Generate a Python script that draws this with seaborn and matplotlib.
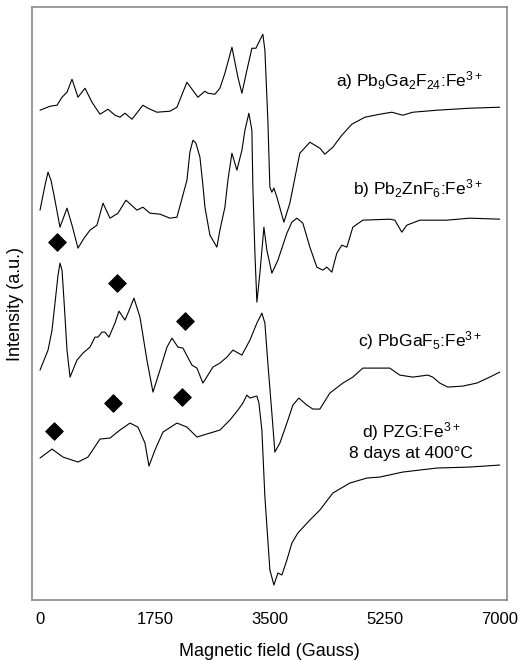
import matplotlib
matplotlib.use('Agg')
import matplotlib.pyplot as plt
import seaborn as sns
import pandas as pd

# EPR spectra (field in Gauss, intensity in a.u.)
field_a = [0, 152, 259, 335, 411, 487, 578, 685, 791, 913, 1035, 1141, 1217, 1293,
           1400, 1567, 1643, 1780, 1978, 2085, 2237, 2404, 2511, 2556, 2663, 2739,
           2815, 2922, 3013, 3074, 3150, 3226, 3287, 3393, 3424, 3469, 3500, 3530,
           3561, 3607, 3713, 3804, 3956, 4109, 4261, 4337, 4459, 4595, 4748, 4946,
           5174, 5356, 5524, 5676, 6041, 6543, 7000]
int_a = [490, 494, 495, 503, 508, 521, 503, 512, 498, 486, 491, 485, 483, 487,
         481, 495, 492, 488, 489, 493, 518, 503, 509, 507, 506, 512,
         527, 553, 523, 507, 530, 552, 552, 566, 550, 480, 413, 408,
         412, 403, 378, 397, 447, 458, 452, 446, 453, 465, 476, 483,
         486, 488, 485, 488, 490, 492, 493]

field_b = [0, 76, 122, 167, 213, 304, 411, 487, 578, 670, 761, 867, 959, 1065, 1187,
           1309, 1476, 1567, 1674, 1826, 1978, 2085, 2237, 2282, 2328, 2374, 2435,
           2480, 2511, 2587, 2693, 2739, 2815, 2861, 2922, 2998, 3074, 3120, 3180,
           3226, 3241, 3272, 3302, 3348, 3409, 3454, 3530, 3622, 3759, 3835, 3911,
           4002, 4109, 4215, 4306, 4367, 4443, 4519, 4595, 4672, 4763, 4915, 5326,
           5402, 5509, 5585, 5783, 6193, 6543, 7000]
int_b = [390, 415, 428, 420, 405, 373, 392, 375, 352, 362, 370, 375, 397, 382, 387,
         400, 390, 393, 387, 386, 382, 383, 420, 448, 460, 457, 443,
         415, 393, 365, 353, 370, 393, 420, 447, 430, 450, 470, 487,
         470, 413, 347, 298, 327, 373, 350, 327, 340, 367, 378, 382,
         377, 353, 333, 330, 333, 328, 347, 355, 353, 373, 380, 381,
         380, 368, 375, 380, 380, 382, 381]

field_c = [0, 122, 183, 228, 274, 304, 335, 365, 411, 457, 563, 654, 761, 837, 883,
           943, 989, 1050, 1141, 1202, 1293, 1339, 1430, 1522, 1628, 1720, 1826,
           1933, 2009, 2100, 2176, 2313, 2389, 2480, 2633, 2739, 2846, 2937, 3074,
           3196, 3302, 3378, 3424, 3469, 3530, 3576, 3652, 3759, 3850, 3941, 4063,
           4154, 4261, 4413, 4611, 4763, 4915, 5326, 5478, 5676, 5904, 5980, 6087,
           6209, 6437, 6650, 6848, 7000]
int_c = [230, 250, 270, 297, 325, 337, 330, 300, 250, 223, 240, 247, 253, 263, 263,
         268, 268, 263, 277, 289, 280, 287, 302, 283, 240, 208, 230,
         253, 262, 253, 252, 235, 232, 217, 233, 237, 243, 250, 245,
         260, 277, 287, 277, 237, 187, 148, 157, 177, 195, 202, 195,
         191, 191, 207, 217, 223, 232, 232, 225, 223, 225, 223, 217,
         213, 214, 217, 223, 228]

field_d = [0, 183, 350, 578, 730, 913, 1065, 1217, 1370, 1491, 1598, 1659, 1750,
           1872, 2085, 2237, 2389, 2587, 2739, 2891, 3013, 3089, 3150, 3196, 3241,
           3302, 3333, 3378, 3424, 3500, 3561, 3622, 3683, 3759, 3835, 3926, 4109,
           4261, 4459, 4717, 4976, 5174, 5524, 6041, 6543, 7000]
int_d = [142, 151, 143, 138, 143, 161, 162, 170, 177, 173, 157, 134, 150,
         168, 177, 173, 163, 167, 170, 180, 190, 197, 205, 202, 203,
         204, 197, 170, 103, 30, 15, 27, 25, 40, 57, 67, 80,
         90, 107, 117, 122, 123, 128, 132, 133, 135]

# diamond markers
diamond_field = [259, 1172, 2207, 213, 1111, 2161]
diamond_int = [358, 317, 279, 169, 197, 203]

labels = [r'a) Pb$_9$Ga$_2$F$_{24}$:Fe$^{3+}$',
          r'b) Pb$_2$ZnF$_6$:Fe$^{3+}$',
          r'c) PbGaF$_5$:Fe$^{3+}$',
          'd) PZG:Fe$^{3+}$\n8 days at 400°C']
label_int = [520, 412, 260, 160]

xticks = [0, 1750, 3500, 5250, 7000]

sns.set_style('white')
plt.rcParams['font.family'] = ['Liberation Sans', 'DejaVu Sans']
plt.rcParams['mathtext.fontset'] = 'custom'
plt.rcParams['mathtext.rm'] = 'Liberation Sans'
plt.rcParams['mathtext.it'] = 'Liberation Sans'
plt.rcParams['mathtext.default'] = 'regular'
plt.rcParams['text.color'] = 'black'
plt.rcParams['axes.labelcolor'] = 'black'
plt.rcParams['xtick.color'] = 'black'

fig = plt.figure(figsize=(5.29, 6.61), dpi=100)
ax = fig.add_axes([0.0605, 0.0923, 0.8975, 0.8967])

frames = []
for name, f, y in [('a', field_a, int_a), ('b', field_b, int_b),
                   ('c', field_c, int_c), ('d', field_d, int_d)]:
    frames.append(pd.DataFrame({'field': f, 'intensity': y, 'sample': name}))
df = pd.concat(frames, ignore_index=True)

sns.lineplot(data=df, x='field', y='intensity', units='sample', estimator=None,
             sort=False, color='black', linewidth=0.8, ax=ax)
sns.scatterplot(x=diamond_field, y=diamond_int, marker='D', s=80, color='black',
                edgecolor='black', ax=ax, zorder=5)

for i in range(3):
    ax.text(6741, label_int[i], labels[i], ha='right', va='center', fontsize=12.5)
ax.text(5650, label_int[3], labels[3], ha='center', va='center', fontsize=12.5,
        linespacing=1.25)

ax.set_xlim(-122, 7107)
ax.set_ylim(0, 593)
ax.set_xticks(xticks)
ax.set_xticklabels([str(t) for t in xticks])
ax.set_yticks([])
ax.tick_params(axis='x', direction='in', length=7, width=1, color='#444444',
               labelsize=12, pad=9)
for s in ax.spines.values():
    s.set_color('#8a8a8a')
    s.set_linewidth(1.2)
ax.set_xlabel('Magnetic field (Gauss)', fontsize=13, labelpad=11)
ax.set_ylabel('Intensity (a.u.)', fontsize=13, labelpad=6)

fig.savefig('out.png', dpi=100)
